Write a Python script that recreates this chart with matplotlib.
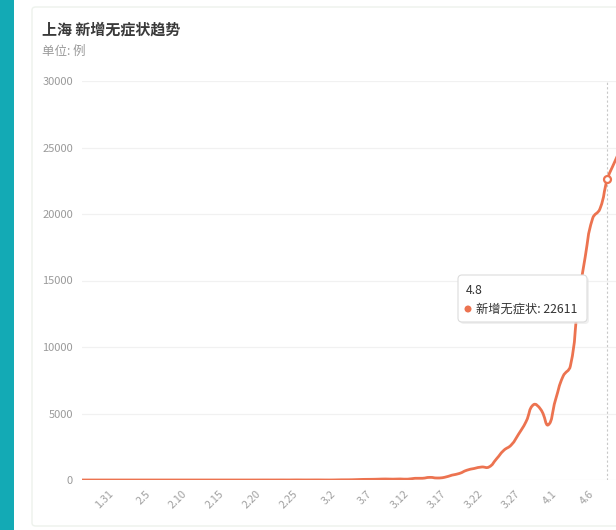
import datetime as dt
import numpy as np
import matplotlib
matplotlib.use("Agg")
import matplotlib.pyplot as plt
from matplotlib.path import Path
from matplotlib.patches import PathPatch, FancyBboxPatch, Rectangle, Circle
from matplotlib.transforms import IdentityTransform

plt.rcParams['font.family'] = ['Noto Sans CJK SC', 'DejaVu Sans']

# daily new asymptomatic cases, Shanghai, 2022-01-27 .. 2022-04-10
start = dt.date(2022, 1, 27)
cases = [
    0, 0, 0, 0, 0,                       # 1.27 - 1.31
    0, 0, 0, 0, 0, 0, 0, 0, 0, 0,        # 2.1 - 2.10
    0, 0, 0, 0, 0, 0, 0, 0, 0, 1,        # 2.11 - 2.20
    2, 1, 3, 2, 6, 3, 4, 5,              # 2.21 - 2.28
    1, 3, 14, 16, 28, 45, 51, 62, 76, 64,          # 3.1 - 3.10
    78, 64, 128, 130, 197, 150, 203, 366, 492, 734,  # 3.11 - 3.20
    865, 977, 979, 1580, 2231, 2631, 3450, 4381, 5656, 5298, 4144,  # 3.21 - 3.31
    6051, 7788, 8581, 13086, 16766, 19660, 20398, 22611, 23937, 25173,  # 4.1 - 4.10
]
dates = [start + dt.timedelta(days=i) for i in range(len(cases))]
date_labels = [f"{d.month}.{d.day}" for d in dates]
y_ticks = [0, 5000, 10000, 15000, 20000, 25000, 30000]
hover_idx = date_labels.index("4.8")

LINE = '#ec7350'
GRAY = '#9a9a9a'
W, H = 616, 530

fig = plt.figure(figsize=(W / 100, H / 100), dpi=100)
fig.patch.set_facecolor('white')

# page decoration: teal side bar and card border
fig.patches.append(Rectangle((0, 0), 14 / W, 1, transform=fig.transFigure,
                             facecolor='#13aab5', edgecolor='none', zorder=-2))
fig.patches.append(FancyBboxPatch((32 / W, 4 / H), 600 / W, 519 / H,
                                  boxstyle='round,pad=0,rounding_size=0.006',
                                  transform=fig.transFigure, facecolor='white',
                                  edgecolor='#edf2ec', linewidth=1, zorder=-2))

fig.text(42 / W, 1 - 30 / H, '上海 新增无症状趋势', fontsize=10.8,
         fontweight='bold', color='#3a3a3a', va='center', ha='left')
fig.text(42 / W, 1 - 51 / H, '单位: 例', fontsize=9, color=GRAY,
         va='center', ha='left')

px_day = 7.4
left_px, bottom_px, top_px = 82, 480, 81
ax = fig.add_axes([left_px / W, (H - bottom_px) / H, (W - left_px) / W,
                   (bottom_px - top_px) / H])
ax.set_facecolor('none')
ax.set_xlim(0, (W - left_px) / px_day)
ax.set_ylim(0, 30000)
for s in ax.spines.values():
    s.set_visible(False)

ax.set_yticks(y_ticks)
ax.set_yticklabels([str(v) for v in y_ticks], fontsize=8, color=GRAY)
ax.tick_params(axis='y', length=0, pad=6.5)
ax.grid(axis='y', color='#f1f1f1', linewidth=0.9)
ax.set_axisbelow(True)

tick_idx = list(range(date_labels.index("1.31"), len(dates), 5))
ax.set_xticks(tick_idx)
ax.set_xticklabels([date_labels[i] for i in tick_idx], fontsize=7.8,
                   color='#a0a0a0', rotation=45, ha='right', va='center',
                   rotation_mode='anchor')
ax.tick_params(axis='x', length=0, pad=9)

# smooth line (echarts-like bezier smoothing, smooth = 0.5) in pixel space
x = np.arange(len(cases), dtype=float)
y = np.array(cases, dtype=float)
sx, sy = px_day, (bottom_px - top_px) / 30000.0
P = np.column_stack([x * sx, y * sy])
n = len(P)
cp_in = P.copy()
cp_out = P.copy()
smooth = 0.5
for i in range(1, n - 1):
    v = (P[i + 1] - P[i - 1]) * smooth
    d0 = np.hypot(*(P[i] - P[i - 1]))
    d1 = np.hypot(*(P[i + 1] - P[i]))
    r = d1 / (d0 + d1) if d0 + d1 > 0 else 0.5
    cp_in[i] = P[i] - v * (1 - r)
    cp_out[i] = P[i] + v * r
verts = [P[0]]
codes = [Path.MOVETO]
for i in range(1, n):
    verts += [cp_out[i - 1], cp_in[i], P[i]]
    codes += [Path.CURVE4] * 3
verts = np.array(verts) / np.array([sx, sy])
ax.add_patch(PathPatch(Path(verts, codes), facecolor='none', edgecolor=LINE,
                       linewidth=2, capstyle='round', joinstyle='round',
                       zorder=3))

# axis pointer and hovered point
ax.axvline(hover_idx, color='#c8c8c8', linewidth=0.8, linestyle=(0, (2, 2)),
           zorder=2)
ax.plot([hover_idx], [cases[hover_idx]], marker='o', markersize=5,
        markerfacecolor='white', markeredgecolor=LINE, markeredgewidth=1.6,
        zorder=4)

# tooltip
ident = IdentityTransform()
fig.patches.append(FancyBboxPatch((460, H - 324), 129, 47,
                                  boxstyle='round,pad=0,rounding_size=4',
                                  transform=ident, facecolor='#e6e6e6',
                                  edgecolor='none', alpha=0.6, zorder=5))
fig.patches.append(FancyBboxPatch((458, H - 322), 129, 47,
                                  boxstyle='round,pad=0,rounding_size=4',
                                  transform=ident, facecolor='white',
                                  edgecolor='#dcdcdc', linewidth=0.8, zorder=6))
fig.patches.append(Circle((468, H - 309), 3.5, transform=ident,
                          facecolor=LINE, edgecolor='none', zorder=7))
fig.text(466 / W, 1 - 291 / H, date_labels[hover_idx], fontsize=8.8,
         color='#333333', va='center', ha='left', zorder=7)
fig.text(476 / W, 1 - 309 / H, f"新增无症状: {cases[hover_idx]}", fontsize=8.8,
         color='#333333', va='center', ha='left', zorder=7)

fig.savefig('out.png', dpi=100)
